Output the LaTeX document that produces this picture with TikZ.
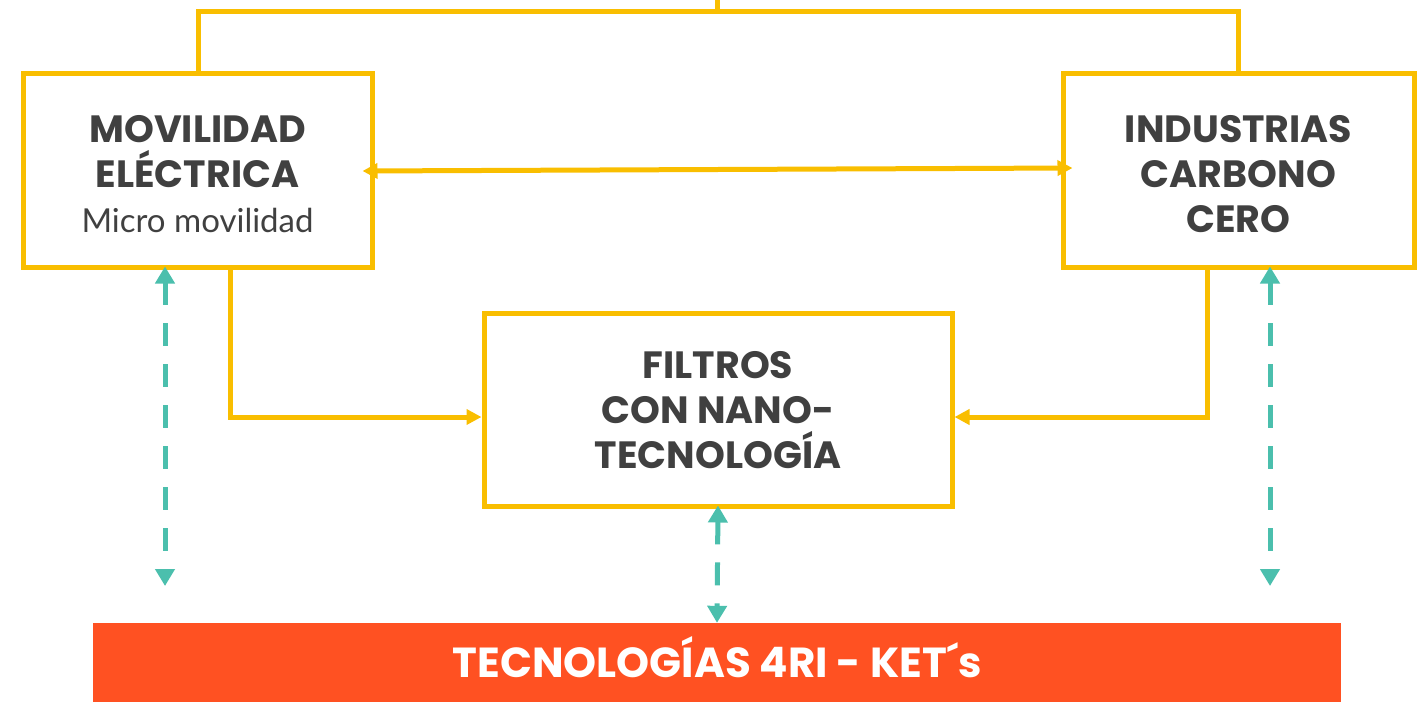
\documentclass[tikz,border=0pt]{standalone}
\usepackage{fontspec}
\setmainfont{Poppins}
\newfontfamily\lightfont{Lato}
\usetikzlibrary{arrows.meta}
\definecolor{ybox}{HTML}{F9BE00}
\definecolor{teal2}{HTML}{4BBFAD}
\definecolor{orng}{HTML}{FF5122}
\definecolor{dgray}{HTML}{404040}
\tikzset{
  boxst/.style={draw=ybox, line width=5pt, minimum width=#1, inner sep=0pt},
  txt/.style={align=center, text=dgray, font=\bfseries\fontsize{38}{45}\selectfont, inner sep=0pt},
  yarr/.style={draw=ybox, line width=5pt, -{Triangle[length=15pt,width=15pt]}},
  ylin/.style={draw=ybox, line width=5pt},
  tarr/.style={draw=teal2, line width=5pt, dash pattern=on 23pt off 18pt, {Triangle[length=17pt,width=19pt]}-{Triangle[length=17pt,width=19pt]}},
}
\begin{document}
\begin{tikzpicture}[x=1pt,y=-1pt]
\useasboundingbox (0,0) rectangle (1422,707);
\node[boxst=349pt, minimum height=194pt] (mov) at (197.5,170) {};
\node[boxst=351pt, minimum height=194pt] (ind) at (1238.5,170) {};
\node[boxst=468pt, minimum height=193pt] (fil) at (718,409.5) {};
\node[txt] (movt) at ([yshift=-4pt]mov.center) {MOVILIDAD\\ELÉCTRICA\\{\lightfont\mdseries\fontsize{33}{45}\selectfont Micro movilidad}};
\node[txt] (indt) at ([yshift=-4pt]ind.center) {INDUSTRIAS\\CARBONO\\CERO};
\node[txt] (filt) at ([yshift=-1pt]fil.center) {FILTROS\\CON NANO-\\TECNOLOGÍA};
\node[fill=orng, minimum width=1248pt, minimum height=79pt, inner sep=0pt] (bar) at (717,662.5) {};
\node[text=white, font=\bfseries\fontsize{42}{48}\selectfont, inner sep=0pt] (bart) at ([yshift=5pt]bar.center) {TECNOLOGÍAS 4RI - KET´s};
% top connector
\coordinate (t0) at (717,0);
\coordinate (tl) at (198,11);
\coordinate (tr) at (1238,11);
\draw[ylin] (t0) -- (717,11);
\draw[ylin] ([yshift=-2.5pt]mov.north -| tl) -- (tl) -- (tr) -- ([yshift=-2.5pt]ind.north -| tr);
% horizontal double arrow
\draw[ybox, line width=5pt, {Triangle[length=15pt,width=15pt]}-{Triangle[length=15pt,width=15pt]}] ([xshift=-12pt]mov.east |- 0,171) -- ([xshift=12pt]ind.west |- 0,168);
% elbows
\coordinate (el) at (230,417);
\coordinate (er) at (1207,417);
\draw[yarr] (mov.south -| el) -- (el) -- (fil.west |- el);
\draw[yarr] (ind.south -| er) -- (er) -- (fil.east |- er);
% teal dashed
\coordinate (d1) at (165,586);
\coordinate (d2) at (1270,586);
\draw[tarr] ([yshift=3pt]mov.south -| d1) -- (d1);
\draw[tarr] ([yshift=3pt]ind.south -| d2) -- (d2);
\draw[tarr] ([yshift=3pt]fil.south) -- (bar.north);
\end{tikzpicture}
\end{document}
